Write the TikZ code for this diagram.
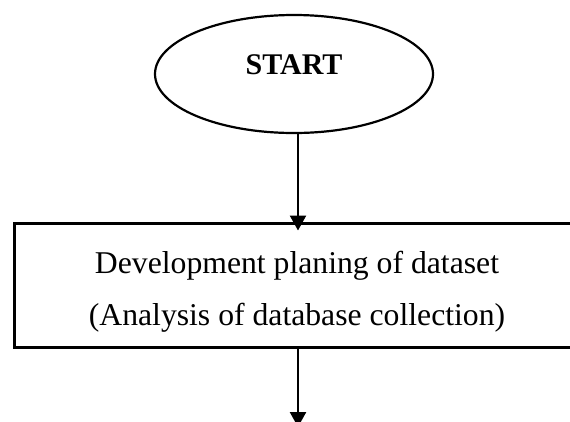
\documentclass[tikz,border=0pt]{standalone}
\usepackage{fontspec}
\setmainfont{Liberation Serif}
\usetikzlibrary{shapes.geometric,arrows.meta}

\tikzset{
  terminal/.style={draw=black, ellipse, line width=2.2pt, minimum width=278pt,
    minimum height=118pt, inner sep=0pt},
  process/.style={draw=black, rectangle, line width=3pt, minimum width=566pt,
    minimum height=124pt, inner sep=0pt},
  headtext/.style={font=\bfseries\fontsize{30}{36}\selectfont, inner sep=0pt},
  bodytext/.style={font=\fontsize{31.7}{38}\selectfont, inner sep=0pt},
  flow/.style={line width=2.4pt, -{Triangle[width=16pt,length=15pt]}}
}

\begin{document}
\begin{tikzpicture}[x=1pt, y=-1pt]
  \fill[white] (0,0) rectangle (570,421);
  \useasboundingbox (0,0) rectangle (570,421);

  % start terminal
  \node[terminal] (start) at (294,74) {};
  \node[headtext, anchor=base] (starttext) at (294,74) {START};

  % first process step
  \node[process] (dev) at (297,285) {};
  \node[bodytext, anchor=base] (devline1) at (297,273) {Development planing of dataset};
  \node[bodytext, anchor=base] (devline2) at (297,325) {(Analysis of database collection)};

  % continuation below the page edge
  \coordinate (next) at (298,427);

  % connectors
  \draw[flow] ([xshift=4pt]start.south) -- ([xshift=1pt, yshift=-9pt]dev.north);
  \draw[flow] ([xshift=1pt]dev.south) -- (next);
\end{tikzpicture}
\end{document}
